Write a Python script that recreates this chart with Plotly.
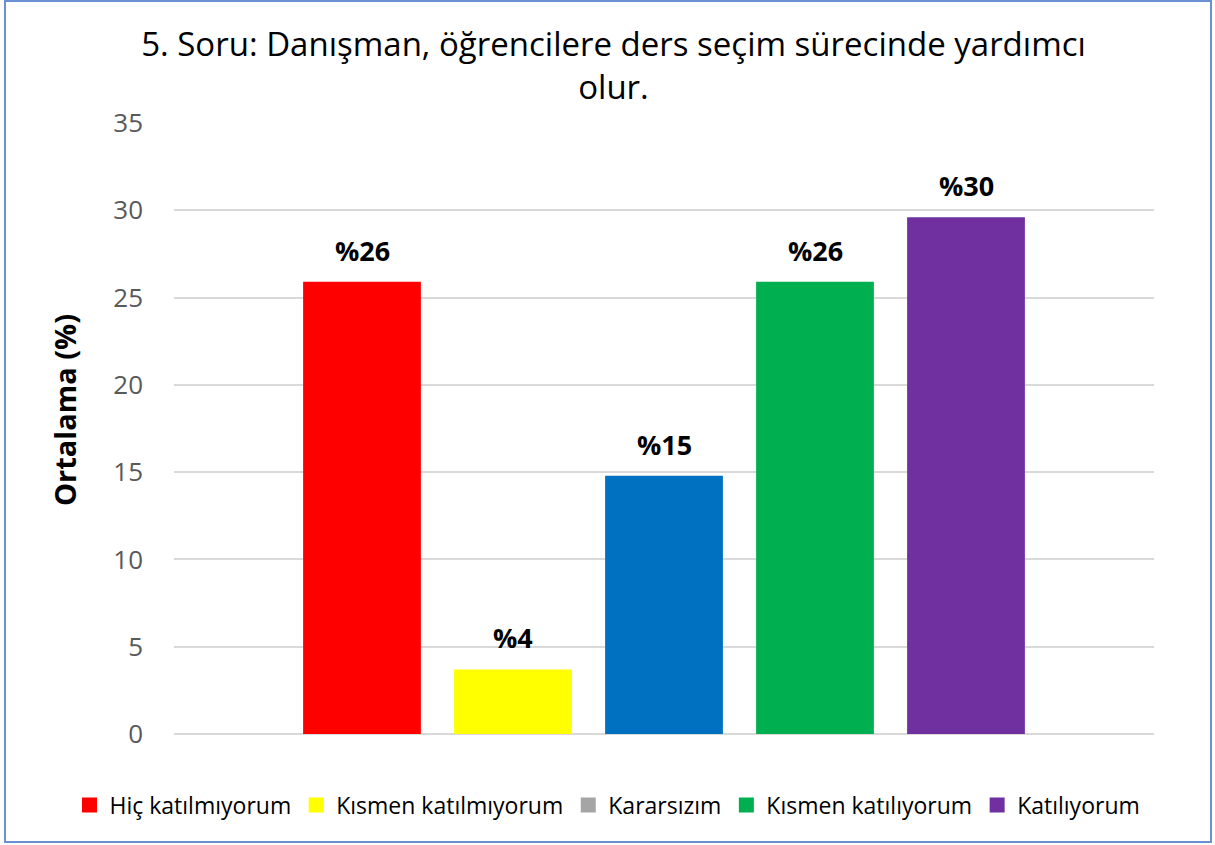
import plotly.graph_objects as go

categories = ["Hiç katılmıyorum", "Kısmen katılmıyorum", "Kararsızım", "Kısmen katılıyorum", "Katılıyorum"]
values = [25.9, 3.7, 14.8, 25.9, 29.6]
labels = ["%26", "%4", "%15", "%26", "%30"]
bar_colors = ["#FF0000", "#FFFF00", "#0070C0", "#00B050", "#7030A0"]
legend_colors = ["#FF0000", "#FFFF00", "#A5A5A5", "#00B050", "#7030A0"]
y_ticks = [0, 5, 10, 15, 20, 25, 30, 35]

W, H = 1215, 845
PX0, PX1 = 174, 1154   # plot area left/right (px)
PY0, PY1 = 123, 734    # plot area top/bottom (px)

FONT = "Open Sans"

def fx(px):
    return px / W

def fy(py):
    return (H - py) / H

fig = go.Figure()
fig.add_trace(go.Bar(
    x=categories, y=values, marker=dict(color=bar_colors, line=dict(width=0)),
    showlegend=False, hoverinfo="x+y",
))
for name, col in zip(categories, legend_colors):
    fig.add_trace(go.Scatter(
        x=[None], y=[None], mode="markers", name=name,
        marker=dict(symbol="square", size=15, color=col),
    ))

for c, v, t in zip(categories, values, labels):
    fig.add_annotation(x=c, y=v, text="<b>%s</b>" % t, showarrow=False,
                       yanchor="bottom", yshift=11,
                       font=dict(family=FONT, size=27, color="#000000"))

# y-axis title
fig.add_annotation(xref="paper", yref="paper", x=fx(64), y=fy(410),
                   text="<b>Ortalama (%)</b>", textangle=-90, showarrow=False,
                   xanchor="center", yanchor="middle",
                   font=dict(family=FONT, size=29, color="#000000"))

# outer border
fig.add_shape(type="rect", xref="paper", yref="paper",
              x0=fx(5), x1=fx(1211), y0=fy(842), y1=fy(1),
              line=dict(color="#6A90D6", width=2), fillcolor="rgba(0,0,0,0)", layer="above")

fig.update_layout(
    width=W, height=H,
    margin=dict(l=0, r=0, t=0, b=0, autoexpand=False),
    paper_bgcolor="white", plot_bgcolor="white",
    bargap=0.22,
    title=dict(text="5. Soru: Danışman, öğrencilere ders seçim sürecinde yardımcı<br>olur.",
               x=0.5 + 6 / W, xref="container", xanchor="center",
               y=fy(56), yref="container", yanchor="top",
               font=dict(family=FONT, size=33, color="#000000")),
    font=dict(family=FONT),
    legend=dict(orientation="h", x=0.5, xanchor="center",
                y=fy(805), yanchor="middle", bgcolor="rgba(0,0,0,0)",
                font=dict(family=FONT, size=23, color="#000000")),
    xaxis=dict(domain=[fx(PX0), fx(PX1)], range=[-1.245, 4 + 1.245],
               showticklabels=False, showgrid=False, automargin=False,
               zeroline=False, showline=False, ticks=""),
    yaxis=dict(domain=[fy(PY1), fy(PY0)], range=[0, 35], tickvals=y_ticks,
               showgrid=True, gridcolor="#D9D9D9", automargin=False,
               gridwidth=1.5, zeroline=True, zerolinecolor="#D9D9D9", zerolinewidth=1.5,
               showline=False, ticks="", ticklabelstandoff=30,
               tickfont=dict(family=FONT, size=26, color="#595959")),
)

fig.write_html("out.html",
               config={"displayModeBar": False},
               post_script="document.body.style.margin='0';document.body.style.overflow='hidden';")
